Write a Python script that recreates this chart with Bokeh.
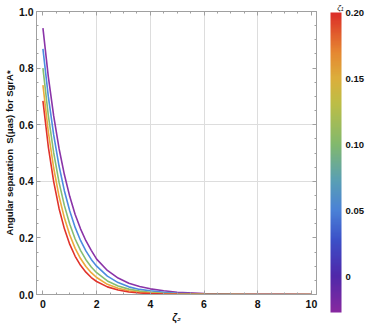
import numpy as np
from bokeh.plotting import figure
from bokeh.models import (ColorBar, LinearColorMapper, FixedTicker, LinearAxis,
                          CustomJSTickFormatter, Range1d)
from bokeh.embed import file_html
from bokeh.resources import INLINE

# ---- data ----
x_vals = [0, 0.2, 0.4, 0.6, 0.8, 1.0, 1.2, 1.4, 1.6, 1.8, 2.0, 2.4, 2.8, 3.2, 3.6,
          4.0, 4.5, 5, 6, 7, 8, 9, 10]
zeta1_values = [0.0, 0.05, 0.10, 0.15, 0.20]
s_zeta1_000 = [0.941, 0.770, 0.631, 0.516, 0.423, 0.346, 0.283, 0.232, 0.190, 0.156, 0.125,
               0.085, 0.058, 0.040, 0.028, 0.020, 0.013, 0.008, 0.0035, 0.0015, 0.0006, 0.0003, 0.0001]
s_zeta1_005 = [0.868, 0.700, 0.564, 0.454, 0.366, 0.295, 0.237, 0.191, 0.154, 0.124, 0.100,
               0.065, 0.042, 0.027, 0.018, 0.013, 0.0075, 0.0045, 0.0017, 0.0006, 0.0002, 0.0001, 0.00004]
s_zeta1_010 = [0.800, 0.633, 0.501, 0.396, 0.314, 0.248, 0.196, 0.156, 0.123, 0.097, 0.077,
               0.048, 0.030, 0.019, 0.012, 0.0075, 0.0042, 0.0024, 0.0008, 0.0003, 0.0001, 0.00004, 0.00001]
s_zeta1_015 = [0.740, 0.575, 0.447, 0.347, 0.270, 0.210, 0.163, 0.127, 0.099, 0.077, 0.060,
               0.036, 0.022, 0.013, 0.008, 0.0048, 0.0026, 0.0014, 0.0004, 0.0001, 0.00003, 0.00001, 0.0]
s_zeta1_020 = [0.684, 0.522, 0.399, 0.304, 0.232, 0.177, 0.135, 0.103, 0.079, 0.060, 0.046,
               0.027, 0.016, 0.009, 0.0053, 0.0031, 0.0015, 0.0008, 0.0002, 0.00005, 0.0, 0.0, 0.0]
series = [s_zeta1_000, s_zeta1_005, s_zeta1_010, s_zeta1_015, s_zeta1_020]
curve_colors = ["#8A34A8", "#4C8CE0", "#86BE72", "#EBAA3C", "#E0332B"]
x_ticks = [0, 2, 4, 6, 8, 10]
y_ticks = [0.0, 0.2, 0.4, 0.6, 0.8, 1.0]
cb_ticks = [0, 0.05, 0.10, 0.15, 0.20]

# ---- colour bar palette (Rainbow-like) ----
anchor_pos = [0.0, 0.12, 0.24, 0.34, 0.44, 0.56, 0.70, 0.78, 0.87, 1.0]
anchor_rgb = [(135, 40, 160), (80, 40, 170), (60, 80, 200), (75, 130, 215), (90, 160, 180),
              (130, 185, 110), (190, 190, 70), (220, 175, 60), (230, 135, 50), (220, 45, 40)]
tt = np.linspace(0, 1, 256)
arr = np.array(anchor_rgb, dtype=float)
palette = []
for t in tt:
    r = np.interp(t, anchor_pos, arr[:, 0]); g = np.interp(t, anchor_pos, arr[:, 1]); b = np.interp(t, anchor_pos, arr[:, 2])
    palette.append("#%02x%02x%02x" % (int(r), int(g), int(b)))

FONT = "Liberation Sans"
FRAME = "#a0a0a0"

p = figure(width=366, height=325, output_backend="svg", toolbar_location=None,
           x_range=Range1d(-0.24, 10.19), y_range=Range1d(0, 1.0),
           min_border_left=0, min_border_right=50, min_border_top=0, min_border_bottom=30)
p.outline_line_color = FRAME
p.background_fill_color = "white"

# colour-bar title (ζ₁) as the figure title, shifted over the colour bar
p.title.text = "ζ₁"
p.title.align = "right"
p.title.offset = -27
p.title.standoff = 0
p.title.text_font = FONT
p.title.text_font_size = "8px"
p.title.text_font_style = "italic"
p.title.text_color = "#111111"
p.title.text_line_height = 0.9

for ys, c in zip(series, curve_colors):
    p.line(x_vals, ys, line_color=c, line_width=1.6)

x_minor = [0.5 * i for i in range(21)]
y_minor = [0.05 * i for i in range(21)]

# axes
for ax in (p.xaxis[0], p.yaxis[0]):
    ax.axis_line_color = FRAME
    ax.major_tick_line_color = FRAME
    ax.minor_tick_line_color = FRAME
    ax.major_tick_in = 4
    ax.major_tick_out = 0
    ax.minor_tick_in = 2
    ax.minor_tick_out = 0
    ax.major_label_text_font = FONT
    ax.major_label_text_font_style = "bold"
    ax.major_label_text_font_size = "10.5px"
    ax.major_label_text_color = "#111111"
    ax.axis_label_text_font = FONT
    ax.axis_label_text_color = "#111111"

p.xaxis[0].ticker = FixedTicker(ticks=x_ticks, minor_ticks=x_minor)
p.yaxis[0].ticker = FixedTicker(ticks=y_ticks, minor_ticks=y_minor)
p.yaxis[0].formatter = CustomJSTickFormatter(code="return tick.toFixed(1);")
p.xaxis[0].axis_label = "ζ₂"
p.xaxis[0].axis_label_text_font_style = "bold italic"
p.xaxis[0].axis_label_text_font_size = "10px"
p.xaxis[0].axis_label_standoff = 1
p.xaxis[0].major_label_standoff = 5
p.yaxis[0].axis_label = "Angular separation\u00a0\u00a0S(μas) for SgrA*"
p.yaxis[0].axis_label_text_font_style = "bold"
p.yaxis[0].axis_label_text_font_size = "9.5px"
p.yaxis[0].axis_label_standoff = 1
p.yaxis[0].major_label_standoff = 3

# mirrored frame ticks (top / right), no labels
blank = CustomJSTickFormatter(code="return '';")
top_ax = LinearAxis(ticker=FixedTicker(ticks=x_ticks, minor_ticks=x_minor), formatter=blank)
right_ax = LinearAxis(ticker=FixedTicker(ticks=y_ticks, minor_ticks=y_minor), formatter=blank)
for ax in (top_ax, right_ax):
    ax.axis_line_color = FRAME
    ax.major_tick_line_color = FRAME
    ax.minor_tick_line_color = FRAME
    ax.major_tick_in = 4
    ax.major_tick_out = 0
    ax.minor_tick_in = 2
    ax.minor_tick_out = 0
    ax.major_label_standoff = 0
p.add_layout(top_ax, "above")
p.add_layout(right_ax, "right")

# grid
p.xgrid.ticker = FixedTicker(ticks=[2, 4, 6, 8])
p.ygrid.ticker = FixedTicker(ticks=[0.4, 0.6])
p.xgrid.grid_line_color = "#dddddd"
p.ygrid.grid_line_color = "#dddddd"

# colour bar (positioned relative to the frame)
mapper = LinearColorMapper(palette=palette, low=-0.027, high=0.20)
cb = ColorBar(color_mapper=mapper, ticker=FixedTicker(ticks=cb_ticks),
              formatter=CustomJSTickFormatter(code="return tick == 0 ? '0' : tick.toFixed(2);"),
              orientation="vertical",
              width=11, height=300, margin=0, padding=0, location=(294, -18),
              major_label_text_font=FONT, major_label_text_font_style="bold",
              major_label_text_font_size="9.5px", major_label_text_color="#111111",
              major_tick_line_color=None, bar_line_color=None, label_standoff=4,
              background_fill_alpha=0, border_line_color=None)
p.add_layout(cb, "center")

open("out.html", "w").write(file_html(p, INLINE))
